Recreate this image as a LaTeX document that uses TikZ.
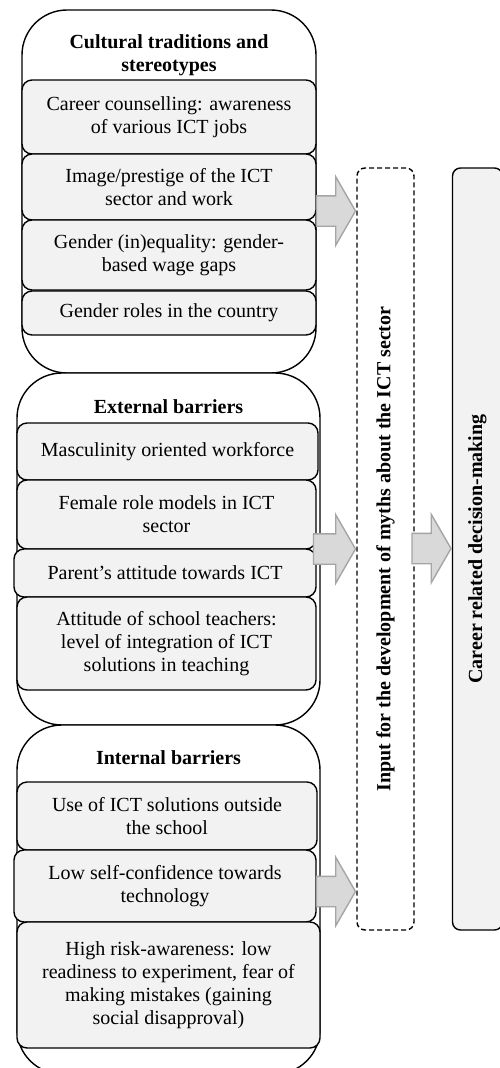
\documentclass[tikz,border=0pt]{standalone}
\usepackage{fontspec}
\usepackage{graphicx}
\setmainfont{Liberation Serif}
\usetikzlibrary{shapes.arrows}

\definecolor{boxgray}{HTML}{F2F2F2}
\definecolor{arrowgray}{HTML}{D9D9D9}
\definecolor{arrowedge}{HTML}{A5A5A5}

\begin{document}
\begin{tikzpicture}[
                x = 1pt, y = -1pt, % one unit per pixel, y runs down
                font = \fontsize{20}{23}\selectfont, % text size
                line width = 1.4pt % line style
            ]

            \tikzstyle{group}=[draw = black, fill = white, rounded corners = 45pt]
            \tikzstyle{inbox}=[draw = black, fill = boxgray, rounded corners = 10pt,
            inner sep = 0pt, align = center]
            \tikzstyle{head}=[font = \fontsize{20}{23}\selectfont\bfseries, align = center]
            \tikzstyle{bigarrow}=[single arrow, draw = arrowedge, fill = arrowgray,
            minimum height = 39pt, inner xsep = 0pt, inner ysep = 14.5pt,
            single arrow head extend = 19pt, single arrow tip angle = 120, anchor = tip]

            \useasboundingbox (0,0) rectangle (500,1068);

            % the three groups
            \node (c) [group, minimum width = 294pt, minimum height = 363pt] at (169,191.5) {};
            \node (e) [group, minimum width = 303pt, minimum height = 352pt] at (168.5,549) {};
            \node (i) [group, minimum width = 303pt, minimum height = 349pt] at (168.5,899.5) {};

            \node (ch) [head] at (169,55) {Cultural traditions and\\stereotypes};
            \node (eh) [head] at (168.5,407) {External barriers};
            \node (ih) [head] at (168.5,758) {Internal barriers};

            \node (1) [inbox, minimum width = 294pt, minimum height = 74pt] at (169,117)
            {Career counselling: awareness\\of various ICT jobs};
            \node (2) [inbox, minimum width = 294pt, minimum height = 66pt] at (169,187)
            {Image/prestige of the ICT\\sector and work};
            \node (3) [inbox, minimum width = 294pt, minimum height = 70pt] at (169,255)
            {Gender (in)equality: gender-\\based wage gaps};
            \node (4) [inbox, minimum width = 294pt, minimum height = 44pt] at (169,313)
            {Gender roles in the country};

            \node (5) [inbox, minimum width = 301pt, minimum height = 57pt] at (167.5,451.5)
            {Masculinity oriented workforce};
            \node (6) [inbox, minimum width = 299pt, minimum height = 69pt] at (166.5,514.5)
            {Female role models in ICT\\sector};
            \node (7) [inbox, minimum width = 302pt, minimum height = 48pt] at (165,573)
            {Parent’s attitude towards ICT};
            \node (8) [inbox, minimum width = 299pt, minimum height = 93pt] at (166.5,643.5)
            {Attitude of school teachers:\\level of integration of ICT\\solutions in teaching};

            \node (9) [inbox, minimum width = 300pt, minimum height = 68pt] at (167,816)
            {Use of ICT solutions outside\\the school};
            \node (10) [inbox, minimum width = 302pt, minimum height = 72pt] at (165,886)
            {Low self-confidence towards\\technology};
            \node (11) [inbox, minimum width = 303pt, minimum height = 126pt] at (168.5,985)
            {High risk-awareness: low\\readiness to experiment, fear of\\making mistakes (gaining\\social disapproval)};

            % myths and decision
            \node (m) [draw = black, dashed, dash pattern = on 5pt off 3pt, rounded corners = 8pt,
            minimum width = 57pt, minimum height = 762pt] at (385.5,549)
            {\rotatebox{90}{\bfseries Input for the development of myths about the ICT sector}};
            \node (d) [draw = black, fill = boxgray, rounded corners = 8pt,
            minimum width = 50pt, minimum height = 762pt] at (477.5,549)
            {\rotatebox{90}{\bfseries Career related decision-making}};

            \node (a1) [bigarrow] at (m.west |- 0,211) {};
            \node (a2) [bigarrow, minimum height = 42pt] at (m.west |- 0,549) {};
            \node (a3) [bigarrow] at (d.west |- 0,548.5) {};
            \node (a4) [bigarrow] at (m.west |- 0,891.5) {};

        \end{tikzpicture}
\end{document}
